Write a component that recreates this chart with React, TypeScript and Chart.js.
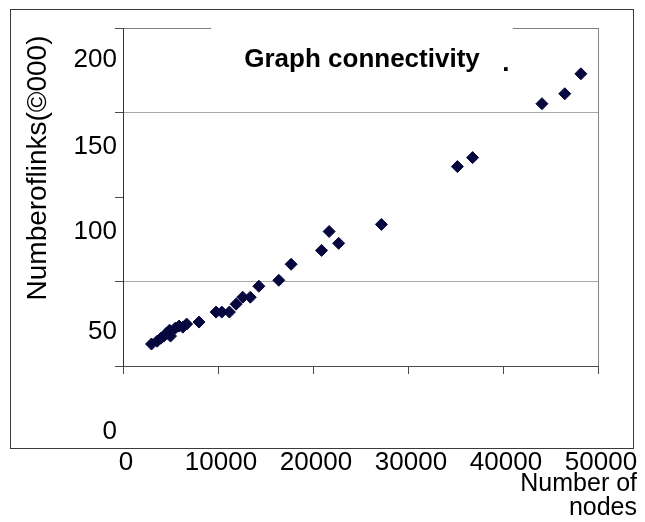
import React, { useEffect, useRef } from 'react';
import { Chart, registerables } from 'chart.js';

Chart.register(...registerables);

// ---- data ----
const nodes = [3000, 3600, 4000, 4300, 4600, 4900, 5000, 5500, 5900, 6300, 6700, 8000, 9800, 10400, 11200, 11900, 12600, 13400, 14300, 16400, 17700, 20900, 21700, 22700, 27200, 35200, 36800, 44100, 46500, 48200];
const links = [13.0, 14.7, 16.5, 17.7, 19.5, 21.2, 17.7, 22.4, 23.6, 23.0, 24.8, 26.0, 31.9, 31.9, 31.9, 36.6, 40.7, 40.7, 47.2, 50.7, 60.2, 68.4, 79.6, 72.6, 83.8, 118.0, 123.3, 155.2, 161.1, 172.9];
const xTickValues = [0, 10000, 20000, 30000, 40000, 50000];
const xTickLabels = ['0', '10000', '20000', '30000', '40000', '50000'];
const yTickValues = [0, 50, 100, 150, 200];
const yTickLabels = ['0', '50', '100', '150', '200'];
const chartTitle = 'Graph connectivity';
const yTitle = 'Numberoflinks(©000)';
const xTitle = ['Number of', 'nodes'];

// ---- styles ----
const FAMILY = '"Liberation Sans", Arial, Helvetica, sans-serif';
const yLabelShift = [66, 50, 35, 34, 32]; // scanned labels sit below their ticks

const decorPlugin = {
  id: 'decor',
  beforeDraw(chart: any) {
    const ctx = chart.ctx;
    ctx.save();
    ctx.fillStyle = '#ffffff';
    ctx.fillRect(0, 0, chart.width, chart.height);
    ctx.strokeStyle = '#3a3a3a';
    ctx.lineWidth = 1;
    ctx.strokeRect(10.5, 9.5, 623, 439);
    ctx.restore();
  },
  afterDraw(chart: any) {
    const { ctx, chartArea } = chart;
    const yScale = chart.scales.y;
    ctx.save();
    // inner title, cutting the top frame line
    ctx.font = 'bold 26px ' + FAMILY;
    const cx = (chartArea.left + chartArea.right) / 2 + 1.5;
    const w = ctx.measureText(chartTitle).width;
    ctx.fillStyle = '#ffffff';
    ctx.fillRect(cx - w / 2 - 33, chartArea.top - 3, w + 66, 6);
    ctx.fillStyle = '#000000';
    ctx.textAlign = 'center';
    ctx.textBaseline = 'alphabetic';
    ctx.fillText(chartTitle, cx, chartArea.top + 39);
    ctx.fillText('.', cx + w / 2 + 26, chartArea.top + 43);

    // y tick labels
    ctx.font = '26px ' + FAMILY;
    ctx.textAlign = 'right';
    ctx.textBaseline = 'middle';
    yTickValues.forEach((v, i) => {
      ctx.fillText(yTickLabels[i], chartArea.left - 6, yScale.getPixelForValue(v) + yLabelShift[i]);
    });

    // y axis title
    ctx.translate(chartArea.left - 84.5, 168);
    ctx.rotate(-Math.PI / 2);
    ctx.font = '28px ' + FAMILY;
    ctx.textAlign = 'center';
    ctx.textBaseline = 'middle';
    ctx.fillText(yTitle, 0, 0);
    ctx.restore();
  },
};

export default function App() {
  const ref = useRef<HTMLCanvasElement | null>(null);

  useEffect(() => {
    if (!ref.current) return;
    const chart = new Chart(ref.current, {
      type: 'scatter',
      data: {
        datasets: [
          {
            data: nodes.map((n, i) => ({ x: n, y: links[i] })),
            pointStyle: 'rectRot',
            pointRadius: 6,
            pointHoverRadius: 6,
            backgroundColor: '#07073f',
            borderColor: '#07073f',
            borderWidth: 1,
          },
        ],
      },
      options: {
        responsive: false,
        animation: false,
        layout: { padding: { left: 115, top: 28, right: 8, bottom: 0 } },
        scales: {
          x: {
            type: 'linear',
            min: 0,
            max: 50000,
            afterBuildTicks: (s: any) => {
              s.ticks = xTickValues.map((v) => ({ value: v }));
            },
            ticks: {
              autoSkip: false,
              maxRotation: 0,
              padding: 0,
              labelOffset: 3,
              color: '#000000',
              font: { family: FAMILY, size: 26, lineHeight: 1 },
              callback: (_v: any, i: number) => xTickLabels[i],
            },
            grid: {
              color: (c: any) => (c.tick && c.tick.value === 50000 ? '#8a837e' : 'rgba(0,0,0,0)'),
              tickColor: '#4a4a4a',
              tickLength: 84,
              tickBorderDash: [7, 400],
            },
            border: { color: '#4a4a4a', width: 1 },
          },
          y: {
            type: 'linear',
            min: 0,
            max: 200,
            afterBuildTicks: (s: any) => {
              s.ticks = yTickValues.map((v) => ({ value: v }));
            },
            ticks: { display: false },
            grid: {
              color: (c: any) => {
                const v = c.tick ? c.tick.value : null;
                if (v === 200) return '#808080';
                if (v === 50 || v === 150) return '#a9a9a9';
                return 'rgba(0,0,0,0)';
              },
              tickColor: '#4a4a4a',
              tickLength: 8,
            },
            border: { color: '#333333', width: 1 },
          },
          yPad: {
            type: 'linear',
            position: 'right',
            display: true,
            grid: { display: false, drawTicks: false },
            border: { display: false },
            ticks: { display: false },
            afterFit: (s: any) => {
              s.width = 39;
            },
          },
        },
        plugins: {
          legend: { display: false },
          tooltip: { enabled: false },
          title: {
            display: true,
            text: xTitle,
            position: 'bottom',
            align: 'end',
            color: '#000000',
            font: { family: FAMILY, size: 25, weight: 'normal', lineHeight: 0.96 },
            padding: { top: -4, bottom: 2 },
          },
        },
      },
      plugins: [decorPlugin],
    } as any);
    return () => chart.destroy();
  }, []);

  return (
    <div style={{ position: 'absolute', left: 0, top: 0, width: 645, height: 522, background: '#ffffff' }}>
      <canvas ref={ref} width={645} height={522} style={{ display: 'block' }} />
    </div>
  );
}
